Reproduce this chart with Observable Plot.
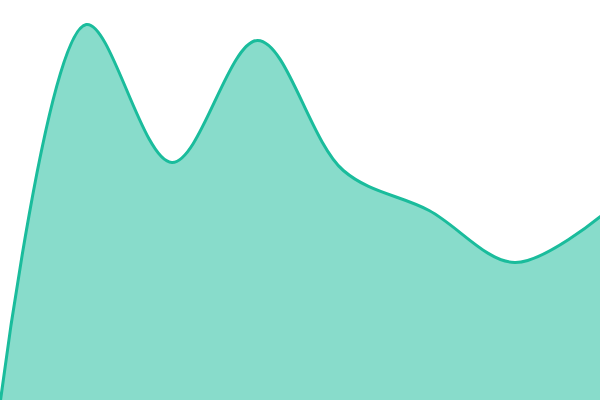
<!DOCTYPE html>
<html><head><meta charset="utf-8">
<script src="https://cdn.jsdelivr.net/npm/d3@7"></script>
<script src="https://cdn.jsdelivr.net/npm/@observablehq/plot@0.6"></script>
<style>html,body{margin:0;padding:0;background:#fff;overflow:hidden}</style>
</head><body><div id="chart"></div>
<script>
const xs = [0, 1, 2, 3, 4, 5, 6, 7];
const values = [0, 94, 59.5, 90, 57.5, 47.5, 34.5, 46];
const data = xs.map((x, i) => ({x, v: values[i]}));
const chart = Plot.plot({
  width: 600, height: 400,
  margin: 0,
  x: {domain: [0, 7], axis: null},
  y: {domain: [0, 100], axis: null},
  marks: [
    Plot.areaY(data, {x: "x", y: "v", curve: "catmull-rom", fill: "#1abc9c", fillOpacity: 0.52}),
    Plot.lineY(data, {x: "x", y: "v", curve: "catmull-rom", stroke: "#1abc9c", strokeWidth: 3})
  ]
});
document.getElementById("chart").appendChild(chart);
</script></body></html>
